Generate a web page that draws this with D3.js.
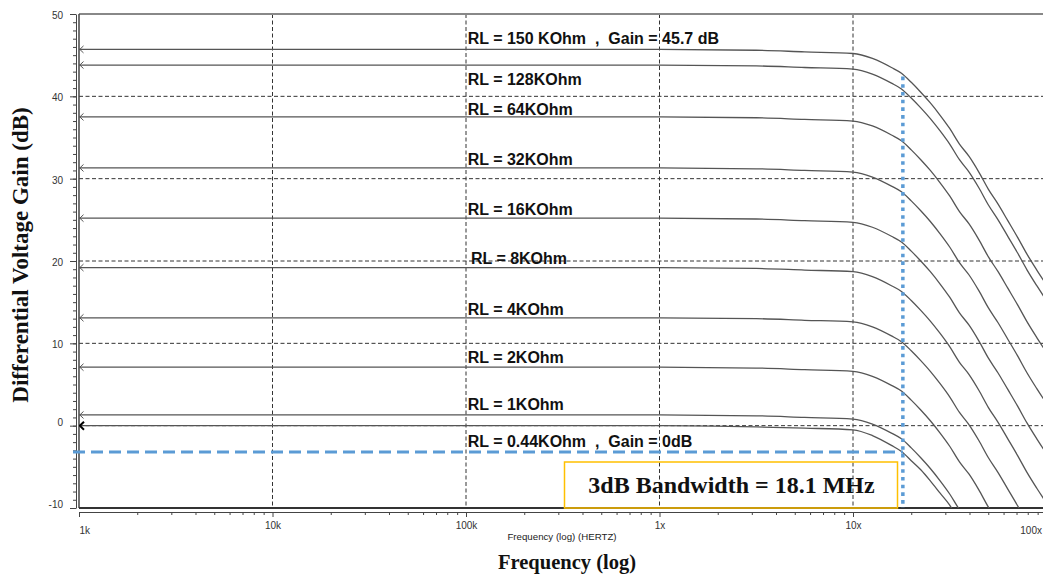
<!DOCTYPE html>
<html>
<head>
<meta charset="utf-8">
<script src="https://cdnjs.cloudflare.com/ajax/libs/d3/7.8.5/d3.min.js"></script>
<style>
  body { margin: 0; background: #fff; }
  .grid line { stroke: #333; stroke-width: 1; stroke-dasharray: 4,2.5; }
  .curve { fill: none; stroke: #555; stroke-width: 1.3; }
  .rl { font-family: "Liberation Sans", Arial, sans-serif; font-weight: bold; font-size: 16px; white-space: pre; fill: #111; }
  .axis text { font-family: "Liberation Sans", Arial, sans-serif; font-size: 10px; fill: #333; }
  .axis path, .axis line { stroke: #444; }
  .big { font-family: "Liberation Serif", "Times New Roman", serif; font-weight: bold; fill: #111; }
</style>
</head>
<body>
<script>
// frequencies (Hz) shared by every load curve
var freqs = [1e3, 1e6, 3.16e6, 5.62e6, 1e7, 1.26e7, 1.58e7, 1.78e7, 2.0e7, 2.24e7, 2.51e7, 2.82e7,
             3.16e7, 3.55e7, 3.98e7, 4.47e7, 5.01e7, 5.62e7, 6.31e7, 7.08e7, 7.94e7, 8.91e7, 1e8];

// gain (dB) of each load
var gain150k = [45.7, 45.7, 45.6, 45.4, 45.2, 44.6, 43.5, 42.8, 41.7, 40.5, 39.2, 37.7, 36.1, 34.2, 32.7, 30.8, 28.7, 26.9, 24.9, 22.9, 20.8, 18.9, 17.1];
var gain128k = [43.8, 43.8, 43.7, 43.5, 43.3, 42.7, 41.6, 40.9, 39.8, 38.6, 37.3, 35.8, 34.2, 32.3, 30.8, 28.9, 26.8, 25.0, 23.0, 21.0, 18.9, 17.0, 15.2];
var gain64k  = [37.5, 37.5, 37.4, 37.2, 37.0, 36.4, 35.3, 34.6, 33.5, 32.3, 31.0, 29.5, 27.9, 26.0, 24.5, 22.6, 20.5, 18.7, 16.7, 14.7, 12.6, 10.7, 8.9];
var gain32k  = [31.3, 31.3, 31.2, 31.0, 30.8, 30.2, 29.1, 28.4, 27.3, 26.1, 24.8, 23.3, 21.7, 19.8, 18.3, 16.4, 14.3, 12.5, 10.5, 8.5, 6.4, 4.5, 2.7];
var gain16k  = [25.2, 25.2, 25.1, 24.9, 24.7, 24.1, 23.0, 22.3, 21.2, 20.0, 18.7, 17.2, 15.6, 13.7, 12.2, 10.3, 8.2, 6.4, 4.4, 2.4, 0.3, -1.6, -3.4];
var gain8k   = [19.2, 19.2, 19.1, 18.9, 18.7, 18.1, 17.0, 16.3, 15.2, 14.0, 12.7, 11.2, 9.6, 7.7, 6.2, 4.3, 2.2, 0.4, -1.6, -3.6, -5.7, -7.6, -9.4];
var gain4k   = [13.1, 13.1, 13.0, 12.8, 12.6, 12.0, 10.9, 10.2, 9.1, 7.9, 6.6, 5.1, 3.5, 1.6, 0.1, -1.8, -3.9, -5.7, -7.7, -9.7, -11.8, -13.7, -15.5];
var gain2k   = [7.1, 7.1, 7.0, 6.8, 6.6, 6.0, 4.9, 4.2, 3.1, 1.9, 0.6, -0.9, -2.5, -4.4, -5.9, -7.8, -9.9, -11.7, -13.7, -15.7, -17.8, -19.7, -21.5];
var gain1k   = [1.3, 1.3, 1.2, 1.0, 0.8, 0.2, -0.9, -1.6, -2.7, -3.9, -5.2, -6.7, -8.3, -10.2, -11.7, -13.6, -15.7, -17.5, -19.5, -21.5, -23.6, -25.5, -27.3];
var gain044k = [0.0, 0.0, -0.15, -0.3, -0.5, -1.2, -2.4, -3.15, -4.25, -5.35, -6.7, -8.2, -9.65, -11.6, -13.4, -15.4, -17.5, -19.4, -21.4, -23.4, -25.5, -27.4, -29.2];

var labelTexts = ["RL = 150 KOhm  ,  Gain = 45.7 dB", "RL = 128KOhm", "RL = 64KOhm", "RL = 32KOhm", "RL = 16KOhm",
                  "RL = 8KOhm", "RL = 4KOhm", "RL = 2KOhm", "RL = 1KOhm", "RL = 0.44KOhm  ,  Gain = 0dB"];
var labelDb = [47.05, 42.07, 38.43, 32.27, 26.2, 20.25, 14.17, 8.34, 2.63, -1.95];

var xTickValues = [1e3, 1e4, 1e5, 1e6, 1e7, 1e8];
var xTickLabels = ["1k", "10k", "100k", "1x", "10x", "100x"];
var yTickValues = [-10, 0, 10, 20, 30, 40, 50];

var bwFreq = 18.1e6, bwDb = -3.2, bwTopDb = 42.4;

var width = 1043, height = 575;

var svg = d3.select("body").append("svg")
    .attr("width", width)
    .attr("height", height);

var x = d3.scaleLog().domain([1e3, 1e8]).range([79, 1046.5]);
var y = d3.scaleLinear().domain([-10, 50]).range([508, 14]);

var series = [gain150k, gain128k, gain64k, gain32k, gain16k, gain8k, gain4k, gain2k, gain1k, gain044k];

svg.append("clipPath").attr("id", "plot")
  .append("rect")
    .attr("x", x(1e3)).attr("y", y(50))
    .attr("width", x(1e8) - x(1e3)).attr("height", y(-10) - y(50));

// dashed grid
var grid = svg.append("g").attr("class", "grid");
grid.selectAll(".h").data([0, 10, 20, 30, 40]).enter().append("line")
    .attr("x1", x(1e3)).attr("x2", x(1e8))
    .attr("y1", function(d) { return y(d); }).attr("y2", function(d) { return y(d); });
grid.selectAll(".v").data([1e4, 1e5, 1e6, 1e7]).enter().append("line")
    .attr("x1", function(d) { return x(d); }).attr("x2", function(d) { return x(d); })
    .attr("y1", y(50)).attr("y2", y(-10));

// frame
svg.append("line").attr("x1", x(1e3)).attr("x2", x(1e8)).attr("y1", y(50)).attr("y2", y(50))
    .attr("stroke", "#888").attr("stroke-width", 2);
svg.append("line").attr("x1", x(1e3)).attr("x2", x(1e3)).attr("y1", y(50)).attr("y2", y(-10))
    .attr("stroke", "#444").attr("stroke-width", 1.5);
svg.append("line").attr("x1", x(1e3)).attr("x2", x(1e8)).attr("y1", y(-10)).attr("y2", y(-10))
    .attr("stroke", "#333").attr("stroke-width", 2);

// y axis
var yAxis = svg.append("g").attr("class", "axis").attr("transform", "translate(76,0)");
yAxis.call(d3.axisLeft(y).tickValues(d3.range(-10, 51, 1)).tickSize(3).tickSizeOuter(0).tickFormat(""));
var yMajor = svg.append("g").attr("class", "axis").attr("transform", "translate(76,0)");
yMajor.call(d3.axisLeft(y).tickValues(yTickValues).tickSize(6).tickSizeOuter(0).tickPadding(7)
    .tickFormat(function(d) { return String(d); }));
yMajor.select(".domain").remove();
yMajor.selectAll("text").attr("dy", function(d) { return d <= 0 ? "-0.05em" : "0.45em"; });

// x axis
var minor = [];
for (var e = 3; e < 8; e++) for (var m = 2; m < 10; m++) minor.push(m * Math.pow(10, e));
var xAxis = svg.append("g").attr("class", "axis").attr("transform", "translate(0,512)");
xAxis.call(d3.axisBottom(x).tickValues(minor).tickSize(3).tickSizeOuter(0).tickFormat(""));
var xMajor = svg.append("g").attr("class", "axis").attr("transform", "translate(0,512)");
xMajor.call(d3.axisBottom(x).tickValues(xTickValues).tickSize(5).tickSizeOuter(0)
    .tickFormat(function(d, i) { return xTickLabels[i]; }));
xMajor.select(".domain").remove();
xMajor.selectAll("text").attr("y", 10);
xMajor.selectAll("text").filter(function(d, i) { return i === 0; }).attr("text-anchor", "start").attr("y", 15);
xMajor.selectAll("text").filter(function(d, i) { return i === xTickValues.length - 1; })
    .attr("text-anchor", "end").attr("y", 15).attr("dx", -5);

svg.append("text")
    .attr("x", 562).attr("y", 540)
    .attr("text-anchor", "middle")
    .attr("font-family", "Liberation Sans, Arial, sans-serif").attr("font-size", 9.7).attr("fill", "#222")
    .text("Frequency (log) (HERTZ)");

// curves
var line = d3.line()
    .x(function(d, i) { return x(freqs[i]); })
    .y(function(d) { return y(d); })
    .curve(d3.curveMonotoneX);

var curves = svg.append("g").attr("clip-path", "url(#plot)");
series.forEach(function(s, k) {
  var bold = k === series.length - 1;
  curves.append("path").attr("class", "curve")
      .attr("d", line(s))
      .attr("stroke", bold ? "#000" : (k === 1 ? "#222" : "#555"))
      .attr("stroke-width", bold ? 2.2 : 1.3);
  var x0 = x(freqs[0]), y0 = y(s[0]);
  curves.append("path")
      .attr("d", "M" + (x0 + (bold ? 5 : 4.5)) + "," + (y0 - (bold ? 4 : 3.5)) + "L" + (x0 + 0.8) + "," + y0 +
                 "L" + (x0 + (bold ? 5 : 4.5)) + "," + (y0 + (bold ? 4 : 3.5)))
      .attr("fill", "none")
      .attr("stroke", bold ? "#000" : "#555")
      .attr("stroke-width", bold ? 2 : 1);
});

// curve labels
svg.selectAll(".rl").data(labelTexts).enter().append("text")
    .attr("class", "rl")
    .attr("x", function(d, i) { return x(i === 5 ? 1.06e5 : 1.02e5); })
    .attr("y", function(d, i) { return y(labelDb[i]); })
    .attr("dominant-baseline", "central")
    .text(function(d) { return d; });

// 3 dB markers
svg.append("line")
    .attr("x1", x(1e3) - 6).attr("x2", x(bwFreq))
    .attr("y1", y(bwDb)).attr("y2", y(bwDb))
    .attr("stroke", "#5B9BD5").attr("stroke-width", 3).attr("stroke-dasharray", "12,6");
svg.append("line")
    .attr("x1", x(bwFreq)).attr("x2", x(bwFreq))
    .attr("y1", y(bwTopDb)).attr("y2", y(-10))
    .attr("stroke", "#5B9BD5").attr("stroke-width", 3.5).attr("stroke-dasharray", "3.6,4.1");

svg.append("rect")
    .attr("x", 564.5).attr("y", 462)
    .attr("width", 333).attr("height", y(-10) - 462)
    .attr("fill", "none").attr("stroke", "#FFC000").attr("stroke-width", 1.5);
svg.append("text").attr("class", "big")
    .attr("x", 731.5).attr("y", 485)
    .attr("text-anchor", "middle").attr("dominant-baseline", "central")
    .attr("font-size", 24)
    .text("3dB Bandwidth = 18.1 MHz");

// axis titles
svg.append("text").attr("class", "big")
    .attr("x", 567).attr("y", 569)
    .attr("text-anchor", "middle")
    .attr("font-size", 20.5)
    .text("Frequency (log)");
svg.append("text").attr("class", "big")
    .attr("transform", "translate(20,255) rotate(-90)")
    .attr("text-anchor", "middle").attr("dominant-baseline", "central")
    .attr("font-size", 23)
    .text("Differential Voltage Gain (dB)");
</script>
</body>
</html>
